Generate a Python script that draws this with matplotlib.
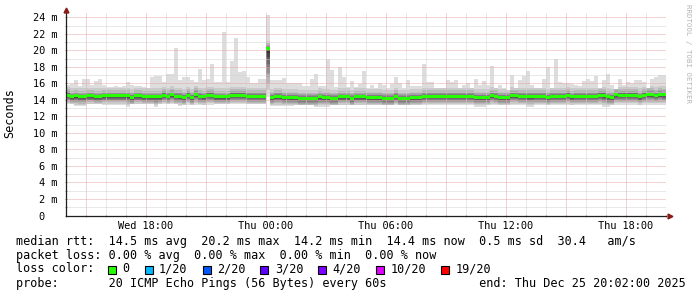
import numpy as np
import matplotlib
matplotlib.use('Agg')
import matplotlib.pyplot as plt
from matplotlib.patches import Rectangle

# 12 minute bins, hours relative to Thu 00:00
start_hour = -10
bin_hours = 0.2

# slowest ping of the 20 in each bin (ms)
rtt_max = [
    15.8, 15.9, 16.4, 15.7, 16.5, 16.5, 15.8, 16.3, 16.6, 15.8,
    15.6, 15.6, 15.7, 15.6, 15.7, 16.2, 15.8, 15.7, 15.7, 15.6,
    15.5, 16.8, 16.9, 16.9, 16.2, 17.1, 17.1, 20.3, 16.4, 16.8,
    16.8, 16.4, 16.2, 17.8, 16.4, 16.5, 18.3, 16.2, 16.2, 22.2,
    16.2, 18.7, 21.5, 17.4, 17.5, 16.8, 16.1, 16.1, 16.6, 16.6,
    24.3, 16.4, 16.4, 16.4, 16.7, 16.0, 16.0, 16.0, 16.0, 15.7,
    15.7, 16.6, 17.2, 15.7, 15.7, 19.0, 17.6, 15.6, 18.0, 16.8,
    15.6, 16.3, 15.6, 15.9, 17.5, 15.5, 15.8, 15.5, 16.1, 15.8,
    15.5, 15.9, 16.8, 16.1, 15.5, 16.4, 15.7, 15.7, 15.7, 18.3,
    16.2, 16.2, 15.4, 15.4, 15.4, 16.4, 16.2, 16.4, 15.5, 15.8,
    16.1, 15.5, 16.5, 15.8, 16.3, 15.8, 18.1, 15.5, 15.8, 15.5,
    15.2, 17.0, 15.5, 16.4, 16.9, 17.5, 15.8, 15.5, 15.5, 16.6,
    18.0, 15.5, 19.0, 16.2, 16.1, 16.0, 15.9, 15.8, 15.7, 16.3,
    16.6, 16.3, 16.9, 15.5, 16.4, 17.2, 15.8, 15.3, 16.6, 15.8,
    16.2, 16.0, 16.4, 16.4, 16.2, 15.5, 16.6, 16.8, 17.0, 17.0,
]

# median rtt per bin (ms)
rtt_median = [
    14.60, 14.40, 14.50, 14.40, 14.40, 14.50, 14.50, 14.40, 14.40, 14.50,
    14.50, 14.50, 14.50, 14.50, 14.50, 14.50, 14.30, 14.50, 14.50, 14.40,
    14.40, 14.40, 14.40, 14.40, 14.60, 14.45, 14.65, 14.45, 14.45, 14.30,
    14.60, 14.30, 14.70, 14.45, 14.40, 14.60, 14.60, 14.40, 14.40, 14.40,
    14.40, 14.60, 14.60, 14.60, 14.60, 14.45, 14.45, 14.45, 14.45, 14.45,
    20.20, 14.30, 14.45, 14.45, 14.30, 14.30, 14.30, 14.30, 14.20, 14.20,
    14.20, 14.20, 14.20, 14.40, 14.30, 14.30, 14.20, 14.20, 14.40, 14.40,
    14.40, 14.20, 14.40, 14.40, 14.40, 14.30, 14.30, 14.30, 14.30, 14.20,
    14.20, 14.20, 14.45, 14.20, 14.20, 14.20, 14.30, 14.30, 14.30, 14.45,
    14.45, 14.45, 14.45, 14.45, 14.45, 14.45, 14.45, 14.45, 14.45, 14.45,
    14.45, 14.45, 14.30, 14.30, 14.30, 14.30, 14.55, 14.45, 14.30, 14.30,
    14.30, 14.55, 14.55, 14.45, 14.45, 14.45, 14.45, 14.45, 14.45, 14.45,
    14.30, 14.45, 14.45, 14.45, 14.45, 14.60, 14.40, 14.45, 14.45, 14.45,
    14.45, 14.45, 14.45, 14.60, 14.60, 14.40, 14.30, 14.65, 14.60, 14.60,
    14.60, 14.60, 14.60, 14.40, 14.60, 14.70, 14.70, 14.55, 14.70, 14.65,
]

# fastest ping per bin (ms)
rtt_min = [
    13.50, 13.50, 13.25, 13.25, 13.25, 13.50, 13.50, 13.50, 13.50, 13.40,
    13.40, 13.40, 13.40, 13.40, 13.40, 13.20, 13.50, 13.50, 13.50, 13.50,
    13.50, 13.50, 13.20, 13.50, 13.50, 13.50, 13.50, 13.50, 13.25, 13.45,
    13.45, 13.45, 13.45, 13.45, 13.45, 13.45, 13.45, 13.50, 13.50, 13.50,
    13.50, 13.50, 13.50, 13.50, 13.50, 13.50, 13.50, 13.50, 13.50, 13.50,
    14.40, 13.25, 13.25, 13.25, 13.25, 13.25, 13.25, 13.40, 13.40, 13.40,
    13.40, 13.40, 13.20, 13.20, 13.20, 13.20, 13.45, 13.45, 13.45, 13.45,
    13.45, 13.45, 13.45, 13.45, 13.45, 13.40, 13.40, 13.40, 13.40, 13.40,
    13.40, 13.40, 13.40, 13.40, 13.40, 13.40, 13.40, 13.40, 13.40, 13.40,
    13.40, 13.40, 13.40, 13.40, 13.40, 13.40, 13.40, 13.40, 13.40, 13.40,
    13.40, 13.40, 13.20, 13.20, 13.20, 13.40, 13.40, 13.40, 13.40, 13.40,
    13.40, 13.40, 13.40, 13.45, 13.45, 13.20, 13.20, 13.40, 13.40, 13.40,
    13.40, 13.40, 13.40, 13.40, 13.40, 13.40, 13.40, 13.40, 13.40, 13.40,
    13.40, 13.40, 13.40, 13.40, 13.20, 13.20, 13.45, 13.45, 13.45, 13.45,
    13.45, 13.45, 13.45, 13.45, 13.45, 13.45, 13.45, 13.45, 13.45, 13.45,
]

# typical spread of the sorted pings around the median (ms), outer -> inner
smoke_up = [1.0, 0.7, 0.5, 0.35, 0.25, 0.2, 0.15, 0.1, 0.05]
smoke_down = [0.95, 0.8, 0.65, 0.55, 0.45, 0.35, 0.25, 0.18, 0.1]
smoke_gray = [221, 202, 183, 164, 145, 126, 107, 88, 69, 50]

x_ticks = [-6, 0, 6, 12, 18]
x_labels = ['Wed 18:00', 'Thu 00:00', 'Thu 06:00', 'Thu 12:00', 'Thu 18:00']
y_ticks = [0, 2, 4, 6, 8, 10, 12, 14, 16, 18, 20, 22, 24]
y_labels = ['0  ', '2 m', '4 m', '6 m', '8 m', '10 m', '12 m', '14 m',
            '16 m', '18 m', '20 m', '22 m', '24 m']

rtt_stats = [14.5, 20.2, 14.2, 14.4, 0.5]
rtt_am_s = 30.4
loss_stats = [0.00, 0.00, 0.00, 0.00]
loss_labels = ['0', '1/20', '2/20', '3/20', '4/20', '10/20', '19/20']
loss_colors = ['#26ff00', '#00b8ff', '#0059ff', '#5e00ff', '#7e00ff', '#dd00ff', '#ff0000']
probe_text = '20 ICMP Echo Pings (56 Bytes) every 60s'
end_text = 'end: Thu Dec 25 20:02:00 2025'

plt.rcParams['font.family'] = ['DejaVu Sans Mono']

W, H = 697.0, 297.0
fig = plt.figure(figsize=(W / 100, H / 100), dpi=100)
fig.patch.set_facecolor('white')
ax = fig.add_axes([66 / W, (H - 215.5) / H, 600 / W, 203 / H])
ax.set_facecolor('white')

n = len(rtt_median)
edges = start_hour + bin_hours * np.arange(n + 1)
med = np.array(rtt_median)
mx = np.array(rtt_max)
mn = np.array(rtt_min)


def stepfill(lo, hi, color, z=1):
    ax.fill_between(edges, np.append(lo, lo[-1]), np.append(hi, hi[-1]),
                    step='post', color=color, linewidth=0, zorder=z)


def gray(v):
    return '#%02x%02x%02x' % (v, v, v)


# smoke: outer band min..max, then the inner pairs of sorted pings
stepfill(mn, mx, gray(smoke_gray[0]))
spread = np.clip((med - mn) / 1.1, 1, None)
for k in range(len(smoke_up)):
    lo = np.maximum(med - smoke_down[k] * spread, mn)
    hi = np.minimum(med + smoke_up[k], mx)
    stepfill(lo, hi, gray(smoke_gray[k + 1]))

# median line, colored by loss (all 0 here)
stepfill(med - 0.18, med + 0.18, loss_colors[0], z=3)

ax.set_xlim(start_hour, start_hour + n * bin_hours)
ax.set_ylim(0, 24.6)

major_x = np.arange(-9, 21, 3)
ax.set_xticks(major_x)
ax.set_xticklabels([x_labels[x_ticks.index(v)] if v in x_ticks else '' for v in major_x])
ax.set_xticks(np.arange(-10, 21, 1), minor=True)
ax.set_yticks(y_ticks)
ax.set_yticklabels(y_labels)
ax.set_yticks(np.arange(0, 25, 1), minor=True)

ax.set_axisbelow(False)
ax.grid(which='major', color='#e6a8a8', linestyle=(0, (1, 1)), linewidth=0.72)
ax.grid(which='minor', color='#d2d2d2', linestyle=(0, (1, 1)), linewidth=0.72)

ax.tick_params(which='both', length=2, width=0.7, direction='inout', color='#999999',
               labelsize=7.4, pad=3)
ax.tick_params(axis='y', pad=5)
for s in ['top', 'right']:
    ax.spines[s].set_visible(False)
for s in ['left', 'bottom']:
    ax.spines[s].set_color('#1f1f1f')
    ax.spines[s].set_linewidth(0.9)
    ax.spines[s].set_zorder(4)

# axis arrows
ax.plot(0, 1.012, marker='^', markersize=3.5, color='#8b1a1a', transform=ax.transAxes,
        clip_on=False, zorder=5)
ax.plot(1.007, 0, marker='>', markersize=3.5, color='#8b1a1a', transform=ax.transAxes,
        clip_on=False, zorder=5)

fig.text(10 / W, 1 - 113 / H, 'Seconds', rotation=90, va='center', ha='center', fontsize=8.5)
fig.text(688 / W, 1 - 4 / H, 'RRDTOOL / TOBI OETIKER', rotation=270, va='top', ha='center',
         fontsize=5.3, color='#b4b4b4')

# legend block
fs = 8.5
line1 = 'median rtt:  %.1f ms avg  %.1f ms max  %.1f ms min  %.1f ms now  %.1f ms sd  %.1f   am/s' % (
    tuple(rtt_stats) + (rtt_am_s,))
line2 = 'packet loss: %.2f %% avg  %.2f %% max  %.2f %% min  %.2f %% now' % tuple(loss_stats)
line4 = 'probe:       ' + probe_text.ljust(52) + end_text
fig.text(16 / W, 1 - 241 / H, line1, va='center', ha='left', fontsize=fs)
fig.text(16 / W, 1 - 255 / H, line2, va='center', ha='left', fontsize=fs)
fig.text(16 / W, 1 - 269 / H, 'loss color:', va='center', ha='left', fontsize=fs)
fig.text(16 / W, 1 - 283 / H, line4, va='center', ha='left', fontsize=fs)

bx = 108.0
for lab, col in zip(loss_labels, loss_colors):
    fig.patches.append(Rectangle((bx / W, 1 - 273.5 / H), 8 / W, 8 / H, transform=fig.transFigure,
                                 facecolor=col, edgecolor='black', linewidth=0.8))
    lx = bx + 14.5
    fig.text(lx / W, 1 - 269 / H, lab, va='center', ha='left', fontsize=fs)
    bx = lx + len(lab) * 7.1 + 15

fig.savefig('out.png', dpi=100, facecolor='white')
